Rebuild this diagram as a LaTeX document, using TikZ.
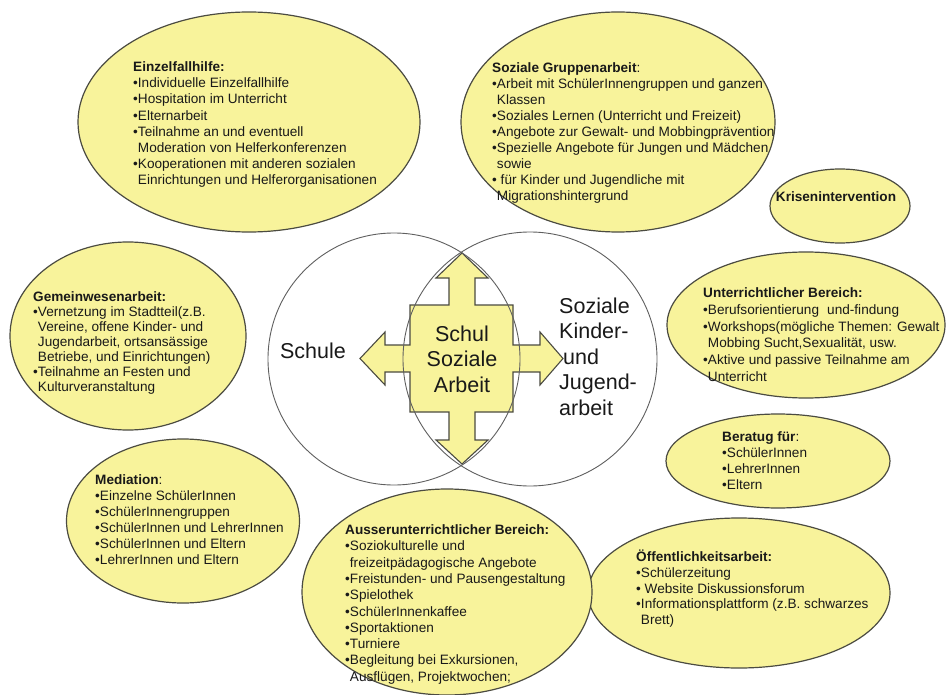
\documentclass[tikz,border=0pt]{standalone}
\usepackage{fontspec}
\setmainfont{Liberation Sans}
\usetikzlibrary{shapes.geometric}
\definecolor{fillY}{RGB}{248,243,155}
\definecolor{lineY}{RGB}{75,75,65}
\definecolor{circL}{RGB}{95,95,95}
\definecolor{txtc}{RGB}{25,25,25}
\newcommand\bl{\textbullet}
\newcommand\ind{\hphantom{\textbullet}}
\begin{document}
\begin{tikzpicture}[x=1pt,y=-1pt,
  bubble/.style={ellipse, draw=lineY, fill=fillY, line width=1.2pt, inner sep=0pt},
  blk/.style={anchor=base west, inner sep=0pt, text=txtc, font=\fontsize{13.6}{16.2}\selectfont},
  big/.style={inner sep=0pt, text=txtc, font=\fontsize{21.5}{25.5}\selectfont}]
\useasboundingbox (0,0) rectangle (947,695);
\fill[white] (0,0) rectangle (947,695);

% bubbles
\node[bubble, minimum width=342pt, minimum height=220pt] (einz) at (249,122) {};
\node[bubble, minimum width=314pt, minimum height=220pt] (grup) at (618,122) {};
\node[bubble, minimum width=140pt, minimum height=74pt] (kris) at (840,206) {};
\node[bubble, minimum width=278pt, minimum height=146pt] (unter) at (806,325) {};
\node[bubble, minimum width=236pt, minimum height=188pt] (gem) at (128,336) {};
\node[bubble, minimum width=224pt, minimum height=94pt] (bera) at (778,461) {};
\node[bubble, minimum width=302pt, minimum height=150pt] (oeff) at (739,593) {};
\node[bubble, minimum width=233pt, minimum height=164pt] (med) at (183,521) {};
\node[bubble, minimum width=290pt, minimum height=206pt] (auss) at (447,592) {};

% quad arrow
\draw[fill=fillY, draw=lineY, line width=1.1pt, line join=miter]
  (462,253) -- (488,278) -- (475,278) -- (475,305) -- (513,305) -- (513,345)
  -- (540,345) -- (540,332) -- (563,358.5) -- (540,385) -- (540,372) -- (513,372)
  -- (513,412) -- (475,412) -- (475,440) -- (488,440) -- (462,464) -- (436,440)
  -- (449,440) -- (449,412) -- (410,412) -- (410,372) -- (385,372) -- (385,385)
  -- (360,358.5) -- (385,332) -- (385,345) -- (410,345) -- (410,305) -- (449,305)
  -- (449,278) -- (436,278) -- cycle;

% Venn circles
\node[circle, draw=circL, line width=0.9pt, minimum size=252pt, inner sep=0pt] (schule) at (394,359) {};
\node[circle, draw=circL, line width=0.9pt, minimum size=254pt, inner sep=0pt] (jugend) at (530,359) {};

% big labels
\node[big] (tschule) at (313,351) {Schule};
\node[big, align=center] (tmitte) at (462,359) {Schul\\Soziale\\Arbeit};
\node[big, anchor=base west] (tjug) at (559,313) {\begin{tabular}[t]{@{}l@{}}Soziale\\Kinder-\\\hspace{4pt}und\\Jugend-\\arbeit\end{tabular}};

% texts
\node[blk] (t1) at (133,71.5) {\begin{tabular}[t]{@{}l@{}}\textbf{Einzelfallhilfe:}\\
\bl Individuelle Einzelfallhilfe\\
\bl Hospitation im Unterricht\\
\bl Elternarbeit\\
\bl Teilnahme an und eventuell\\
\ind Moderation von Helferkonferenzen\\
\bl Kooperationen mit anderen sozialen\\
\ind Einrichtungen und Helferorganisationen\end{tabular}};

\node[blk, font=\fontsize{13.6}{16}\selectfont] (t2) at (492,72.5) {\begin{tabular}[t]{@{}l@{}}\textbf{Soziale Gruppenarbeit}:\\
\bl Arbeit mit SchülerInnengruppen und ganzen\\
\ind Klassen\\
\bl Soziales Lernen (Unterricht und Freizeit)\\
\bl Angebote zur Gewalt- und Mobbingprävention\\
\bl Spezielle Angebote für Jungen und Mädchen\\
\ind sowie\\
\bl{} für Kinder und Jugendliche mit\\
\ind Migrationshintergrund\end{tabular}};

\node[inner sep=0pt, text=txtc, font=\fontsize{13.6}{16}\selectfont\bfseries] (t3) at (836,197) {Krisenintervention};

\node[blk, font=\fontsize{13.6}{16.8}\selectfont] (t4) at (703,297.5) {\begin{tabular}[t]{@{}l@{}}\textbf{Unterrichtlicher Bereich:}\\
\bl Berufsorientierung\hspace{0.6em}und-findung\\
\bl Workshops(mögliche Themen: Gewalt\\
\ind Mobbing Sucht,Sexualität, usw.\\
\bl Aktive und passive Teilnahme am\\
\ind Unterricht\end{tabular}};

\node[blk, font=\fontsize{13.6}{15}\selectfont] (t5) at (33,301.5) {\begin{tabular}[t]{@{}l@{}}\textbf{Gemeinwesenarbeit:}\\
\bl Vernetzung im Stadtteil(z.B.\\
\ind Vereine, offene Kinder- und\\
\ind Jugendarbeit, ortsansässige\\
\ind Betriebe, und Einrichtungen)\\
\bl Teilnahme an Festen und\\
\ind Kulturveranstaltung\end{tabular}};

\node[blk, font=\fontsize{13.6}{16}\selectfont] (t6) at (722,441.5) {\begin{tabular}[t]{@{}l@{}}\textbf{Beratug für}:\\
\bl SchülerInnen\\
\bl LehrerInnen\\
\bl Eltern\end{tabular}};

\node[blk, font=\fontsize{13.6}{15.8}\selectfont] (t7) at (636,561.5) {\begin{tabular}[t]{@{}l@{}}\textbf{Öffentlichkeitsarbeit:}\\
\bl Schülerzeitung\\
\bl{} Website Diskussionsforum\\
\bl Informationsplattform (z.B. schwarzes\\
\ind Brett)\end{tabular}};

\node[blk, font=\fontsize{13.6}{16}\selectfont] (t8) at (95,484.5) {\begin{tabular}[t]{@{}l@{}}\textbf{Mediation}:\\
\bl Einzelne SchülerInnen\\
\bl SchülerInnengruppen\\
\bl SchülerInnen und LehrerInnen\\
\bl SchülerInnen und Eltern\\
\bl LehrerInnen und Eltern\end{tabular}};

\node[blk, font=\fontsize{13.6}{16.3}\selectfont] (t9) at (345,534.5) {\begin{tabular}[t]{@{}l@{}}\textbf{Ausserunterrichtlicher Bereich:}\\
\bl Soziokulturelle und\\
\ind freizeitpädagogische Angebote\\
\bl Freistunden- und Pausengestaltung\\
\bl Spielothek\\
\bl SchülerInnenkaffee\\
\bl Sportaktionen\\
\bl Turniere\\
\bl Begleitung bei Exkursionen,\\
\ind Ausflügen, Projektwochen;\end{tabular}};
\end{tikzpicture}
\end{document}
